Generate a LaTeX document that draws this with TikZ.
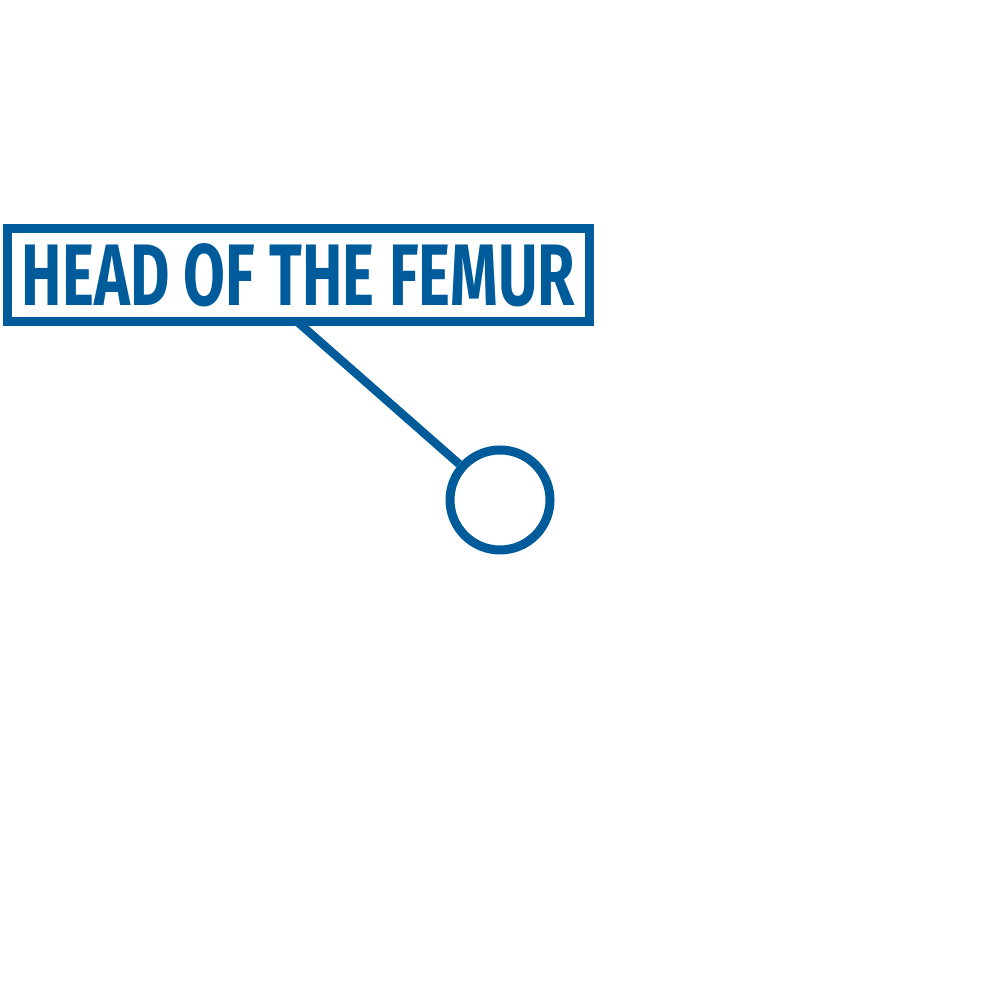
\documentclass[tikz,border=0pt]{standalone}
\usepackage{fontspec}
\usepackage{graphicx}
\newfontfamily\tagfont{Fira Sans}
\usepackage{tikz}
\usetikzlibrary{positioning,calc}

\definecolor{femurblue}{RGB}{0,91,155}

\begin{document}
\begin{tikzpicture}[
  tagbox/.style={rectangle, draw=femurblue, line width=0.09cm, inner sep=0pt, minimum width=5.82cm, minimum height=0.93cm, text=femurblue},
  marker/.style={circle, draw=femurblue, line width=0.09cm, minimum size=1cm, inner sep=0pt},
  pointer/.style={femurblue, line width=0.085cm}
]
\useasboundingbox (0,0) rectangle (10,10);

% Label
\node[tagbox] (tag) at (2.985, 7.25) {\resizebox{5.53cm}{0.62cm}{\tagfont\bfseries HEAD OF THE FEMUR}};

% Head marker
\node[marker] (head) at (5, 5) {};

% Pointer
\coordinate (tagfoot) at (2.97, 6.785);
\draw[pointer] (tagfoot) -- (head);

\end{tikzpicture}
\end{document}
